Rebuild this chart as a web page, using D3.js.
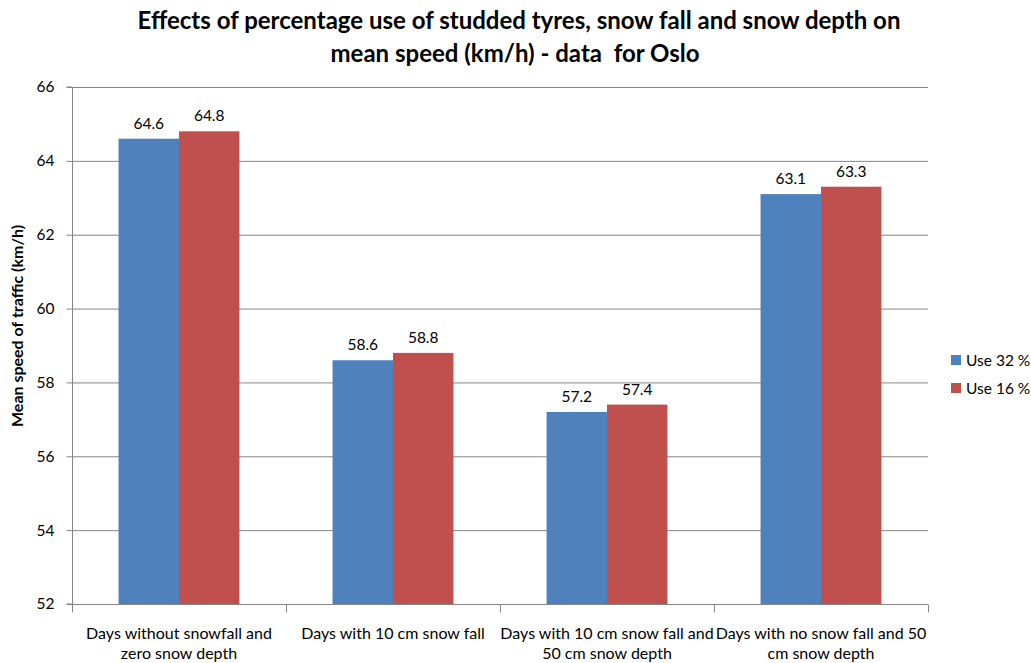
<!DOCTYPE html>
<html>
<head>
<meta charset="utf-8">
<script src="https://cdn.jsdelivr.net/npm/d3@7/dist/d3.min.js"></script>
<style>
  html, body { margin: 0; padding: 0; background: #fff; }
  svg { display: block; font-family: Lato, "Open Sans", sans-serif; }
</style>
</head>
<body>
<svg id="chart" width="1031" height="663"></svg>
<script>
// Mean speed (km/h) in Oslo by weather condition and studded tyre use
const categories = [
  ["Days without snowfall and", "zero snow depth"],
  ["Days with 10 cm snow fall"],
  ["Days with 10 cm snow fall and", "50 cm snow depth"],
  ["Days with no snow fall and 50", "cm snow depth"]
];
const seriesNames = ["Use 32 %", "Use 16 %"];
const use32 = [64.6, 58.6, 57.2, 63.1];
const use16 = [64.8, 58.8, 57.4, 63.3];
const yTicks = [52, 54, 56, 58, 60, 62, 64, 66];
const colors = ["#4f81bd", "#c0504d"];

const svg = d3.select("#chart");
const margin = { left: 72, right: 103, top: 87, bottom: 59 };
const W = 1031, H = 663;
const plotW = W - margin.left - margin.right;
const plotH = H - margin.top - margin.bottom;

const g = svg.append("g").attr("transform", `translate(${margin.left},${margin.top})`);

const x0 = d3.scaleBand().domain(d3.range(categories.length)).range([0, plotW]).paddingInner(0).paddingOuter(0);
const x1 = d3.scaleBand().domain([0, 1]).range([0, x0.bandwidth()]).paddingOuter(0.77).paddingInner(0);
const y = d3.scaleLinear().domain([52, 66]).range([plotH, 0]);

// horizontal gridlines
g.append("g")
  .selectAll("line")
  .data(yTicks.filter(t => t !== 52))
  .join("line")
  .attr("x1", 0).attr("x2", plotW)
  .attr("y1", d => y(d) + 0.5).attr("y2", d => y(d) + 0.5)
  .attr("stroke", "#868686").attr("stroke-width", 1);

// bars and value labels
const series = [use32, use16];
series.forEach((vals, si) => {
  g.append("g")
    .selectAll("rect")
    .data(vals)
    .join("rect")
    .attr("x", (d, i) => x0(i) + x1(si))
    .attr("width", x1.bandwidth())
    .attr("y", d => y(d))
    .attr("height", d => y(52) - y(d))
    .attr("fill", colors[si]);
  g.append("g")
    .selectAll("text")
    .data(vals)
    .join("text")
    .attr("x", (d, i) => x0(i) + x1(si) + x1.bandwidth() / 2)
    .attr("y", d => y(d) - 10)
    .attr("text-anchor", "middle")
    .attr("font-size", 15.5)
    .attr("fill", "#000")
    .text(d => d.toFixed(1));
});

// y axis
const yAxis = d3.axisLeft(y).tickValues(yTicks).tickSize(6).tickPadding(12).tickFormat(d3.format("d"));
const ya = g.append("g").attr("transform", "translate(0.5,0)").call(yAxis);
ya.select(".domain").attr("stroke", "#868686").attr("d", `M-6,${plotH}H0V0H-6`);
ya.selectAll(".tick line").attr("stroke", "#868686");
ya.selectAll(".tick text").attr("font-size", 15.5).attr("fill", "#000").attr("font-family", "Lato, sans-serif");

// x axis baseline and category separators
const xa = g.append("g").attr("transform", `translate(0,${plotH + 0.5})`);
xa.append("line").attr("x1", 0).attr("x2", plotW).attr("stroke", "#868686");
xa.selectAll("line.sep")
  .data(d3.range(categories.length + 1))
  .join("line")
  .attr("class", "sep")
  .attr("x1", d => (d < categories.length ? x0(d) : plotW) + 0.5)
  .attr("x2", d => (d < categories.length ? x0(d) : plotW) + 0.5)
  .attr("y1", 0).attr("y2", 8)
  .attr("stroke", "#868686");

const labels = xa.selectAll("text.cat")
  .data(categories)
  .join("text")
  .attr("class", "cat")
  .attr("text-anchor", "middle")
  .attr("font-size", 16)
  .attr("fill", "#000")
  .attr("transform", (d, i) => `translate(${x0(i) + x0.bandwidth() / 2},0)`);
labels.selectAll("tspan")
  .data(d => d)
  .join("tspan")
  .attr("x", 0)
  .attr("y", (d, i) => 34 + i * 20)
  .text(d => d);

// y axis title
svg.append("text")
  .attr("transform", "translate(23,326) rotate(-90)")
  .attr("text-anchor", "middle")
  .attr("font-size", 16)
  .attr("font-weight", "bold")
  .text("Mean speed of traffic (km/h)");

// title
const title = svg.append("text")
  .attr("text-anchor", "middle")
  .attr("font-size", 24)
  .attr("font-weight", "bold")
  .attr("fill", "#000")
  .style("white-space", "pre");
title.append("tspan").attr("x", 519).attr("y", 29).text("Effects of percentage use of studded tyres, snow fall and snow depth on");
title.append("tspan").attr("x", 515).attr("y", 62).text("mean speed (km/h) - data  for Oslo");

// legend
const legend = svg.append("g").attr("transform", "translate(951,355)");
seriesNames.forEach((name, i) => {
  const row = legend.append("g").attr("transform", `translate(0,${i * 28})`);
  row.append("rect").attr("width", 10).attr("height", 10).attr("fill", colors[i]);
  row.append("text").attr("x", 15).attr("y", 10.5).attr("font-size", 15.5).text(name);
});
</script>
</body>
</html>
